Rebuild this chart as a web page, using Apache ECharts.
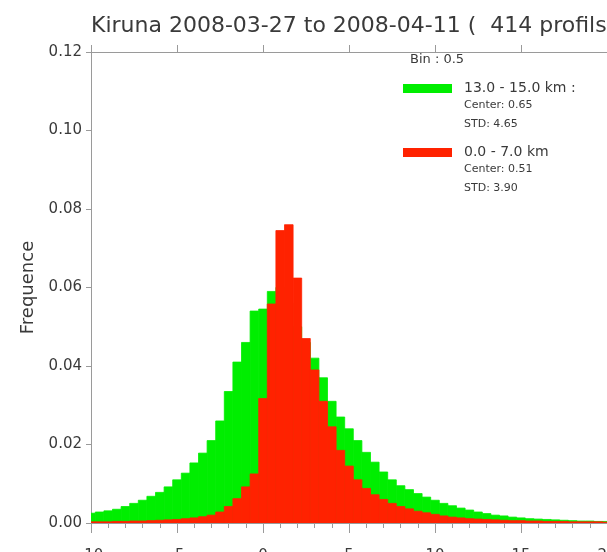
<!DOCTYPE html>
<html>
<head>
<meta charset="utf-8">
<script src="https://cdn.jsdelivr.net/npm/echarts@6/dist/echarts.min.js"></script>
<style>
  html, body { margin: 0; padding: 0; background: #fff; }
  #chart { width: 607px; height: 552px; }
</style>
</head>
<body>
<div id="chart"></div>
<script>
// Histogram bin width and bin centres (-10 ... 20 by 0.5)
const BIN = 0.5;
const binCenters = [];
for (let k = 0; k <= 60; k++) binCenters.push(-10 + k * BIN);

// Frequencies, upper layer 13.0 - 15.0 km
const freqHigh = [
  0.0025, 0.0028, 0.0031, 0.0035, 0.0042, 0.0050, 0.0058, 0.0068, 0.0078, 0.0092,
  0.0110, 0.0127, 0.0153, 0.0178, 0.0210, 0.0260, 0.0335, 0.0410, 0.0460, 0.0540,
  0.0545, 0.0590, 0.0600, 0.0560, 0.0500, 0.0460, 0.0420, 0.0370, 0.0310, 0.0270,
  0.0240, 0.0210, 0.0180, 0.0155, 0.0130, 0.0110, 0.0095, 0.0085, 0.0075, 0.0066,
  0.0058, 0.0050, 0.0044, 0.0038, 0.0033, 0.0028, 0.0024, 0.0020, 0.0018, 0.0015,
  0.0013, 0.0011, 0.0010, 0.0009, 0.0008, 0.0007, 0.0006, 0.0005, 0.0005, 0.0004,
  0.0004
];

// Frequencies, lower layer 0.0 - 7.0 km
const freqLow = [
  0.0003, 0.0003, 0.0003, 0.0004, 0.0004, 0.0005, 0.0005, 0.0006, 0.0007, 0.0008,
  0.0009, 0.0011, 0.0013, 0.0016, 0.0020, 0.0028, 0.0042, 0.0062, 0.0092, 0.0125,
  0.0317, 0.0558, 0.0745, 0.0760, 0.0624, 0.0470, 0.0390, 0.0310, 0.0245, 0.0185,
  0.0145, 0.0110, 0.0088, 0.0072, 0.0060, 0.0050, 0.0042, 0.0036, 0.0030, 0.0026,
  0.0022, 0.0018, 0.0015, 0.0013, 0.0011, 0.0010, 0.0009, 0.0008, 0.0007, 0.0006,
  0.0006, 0.0005, 0.0005, 0.0004, 0.0004, 0.0004, 0.0003, 0.0003, 0.0003, 0.0003,
  0.0002
];

// Legend entries
const layerNames = ['13.0 - 15.0 km :', '0.0 - 7.0 km'];
const layerCenters = ['0.65', '0.51'];
const layerStd = ['4.65', '3.90'];
const layerColors = ['#00ee00', '#ff2200'];
const binText = 'Bin : 0.5';
const titleText = 'Kiruna 2008-03-27 to 2008-04-11 (  414 profils)';
const yName = 'Frequence';

const FONT = 'DejaVu Sans';
const TXT = '#3a3a3a';
const AXIS = '#9a9a9a';

function histSeries(values, color, z) {
  return {
    type: 'custom',
    clip: true,
    z: z,
    data: binCenters.map((c, i) => [c, values[i]]),
    renderItem: function (params, api) {
      const c = api.value(0), f = api.value(1);
      const p0 = api.coord([c - BIN / 2, f]);
      const p1 = api.coord([c + BIN / 2, 0]);
      const cs = params.coordSys;
      const x0 = Math.max(p0[0], cs.x);
      const x1 = Math.min(p1[0], cs.x + cs.width);
      return {
        type: 'rect',
        shape: { x: x0, y: p0[1], width: x1 - x0, height: p1[1] - p0[1] },
        style: { fill: color, stroke: color, lineWidth: 0.8 }
      };
    }
  };
}

const chart = echarts.init(document.getElementById('chart'), null, { renderer: 'canvas' });

const legendX = 403, swatchW = 49, textX = 464;
const graphics = [
  { type: 'text', left: 410, top: 53, style: { text: binText, font: '13px "' + FONT + '"', fill: TXT } }
];
const rowTops = [82, 146];
layerNames.forEach((name, i) => {
  const t = rowTops[i];
  graphics.push({ type: 'rect', left: legendX, top: t + 2, shape: { width: swatchW, height: 9 }, style: { fill: layerColors[i] } });
  graphics.push({ type: 'text', left: textX, top: t - 1, style: { text: name, font: '14px "' + FONT + '"', fill: TXT } });
  graphics.push({ type: 'text', left: textX, top: t + 18, style: { text: 'Center: ' + layerCenters[i], font: '11px "' + FONT + '"', fill: TXT } });
  graphics.push({ type: 'text', left: textX, top: t + 37, style: { text: 'STD: ' + layerStd[i], font: '11px "' + FONT + '"', fill: TXT } });
});

chart.setOption({
  animation: false,
  backgroundColor: '#ffffff',
  title: {
    text: titleText,
    left: 86, top: 10,
    textStyle: { fontFamily: FONT, fontSize: 22, fontWeight: 'normal', color: TXT }
  },
  grid: { left: 91, top: 52, width: 516, height: 471, containLabel: false, outerBoundsMode: 'none' },
  xAxis: [
    {
      type: 'value', position: 'bottom', min: -10, max: 20, interval: 5,
      axisLine: { show: true, onZero: false, lineStyle: { color: AXIS } },
      axisTick: { show: true, inside: false, length: 10, lineStyle: { color: AXIS } },
      minorTick: { show: true, splitNumber: 5, length: 5, lineStyle: { color: AXIS } },
      splitLine: { show: false },
      axisLabel: { margin: 26, fontFamily: FONT, fontSize: 15, color: TXT }
    },
    {
      type: 'value', position: 'top', min: -10, max: 20, interval: 5,
      axisLine: { show: true, onZero: false, lineStyle: { color: AXIS } },
      axisTick: { show: true, inside: false, length: 7, lineStyle: { color: AXIS } },
      splitLine: { show: false },
      axisLabel: { show: false }
    }
  ],
  yAxis: {
    type: 'value', min: 0, max: 0.12, interval: 0.02,
    name: yName, nameLocation: 'middle', nameGap: 52, nameRotate: 90,
    nameTextStyle: { fontFamily: FONT, fontSize: 18, color: TXT },
    axisLine: { show: true, onZero: false, lineStyle: { color: AXIS } },
    axisTick: { show: true, inside: false, length: 5, lineStyle: { color: AXIS } },
    splitLine: { show: false },
    axisLabel: { margin: 9, fontFamily: FONT, fontSize: 15, color: TXT, formatter: v => v.toFixed(2) }
  },
  series: [
    histSeries(freqHigh, layerColors[0], 2),
    histSeries(freqLow, layerColors[1], 3)
  ],
  graphic: graphics
});
</script>
</body>
</html>
